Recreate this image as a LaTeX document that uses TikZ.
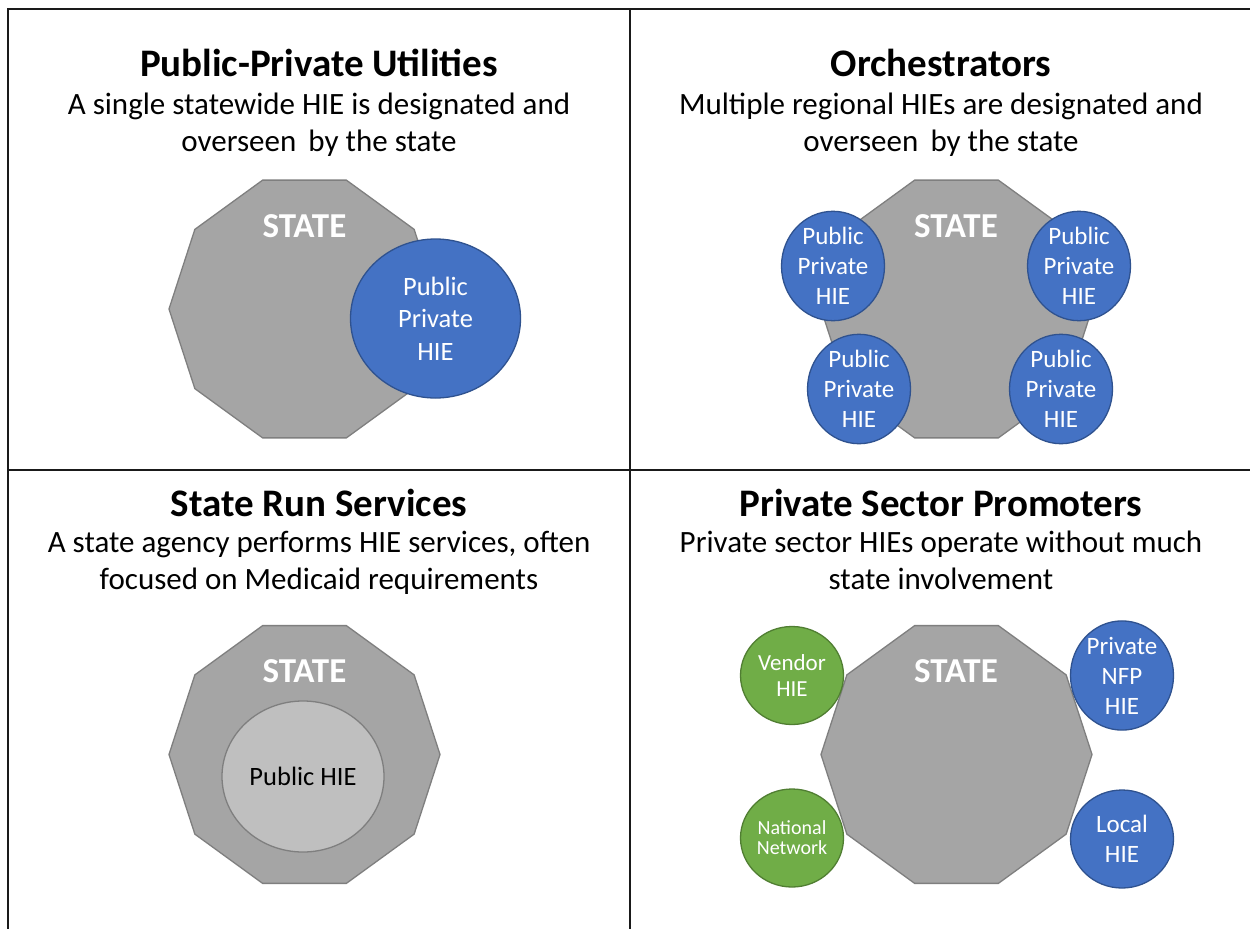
\documentclass[tikz,border=0pt]{standalone}
\usepackage{fontspec}
\setmainfont{Carlito}
\usetikzlibrary{shapes.geometric}
\definecolor{statefill}{HTML}{A5A5A5}
\definecolor{stateline}{HTML}{7F7F7F}
\definecolor{hieblue}{HTML}{4472C4}
\definecolor{hiebluedark}{HTML}{2F528F}
\definecolor{hiegreen}{HTML}{70AD47}
\definecolor{hiegreendark}{HTML}{507E32}
\definecolor{publicfill}{HTML}{BFBFBF}
\definecolor{frameline}{HTML}{1A1A1A}
\tikzset{
  frame/.style={draw=frameline, line width=2pt},
  decagon/.style={regular polygon, regular polygon sides=10, minimum size=271pt, inner sep=0pt, outer sep=0pt, fill=statefill, draw=stateline, line width=1.3pt},
  statelabel/.style={text=white, font=\bfseries\fontsize{35}{35}\selectfont, anchor=base},
  titletext/.style={font=\bfseries\fontsize{39}{39}\selectfont, anchor=base},
  subtext/.style={font=\fontsize{31}{37}\selectfont, align=center, anchor=base},
  bigblue/.style={ellipse, minimum width=170pt, minimum height=159pt, inner sep=0pt, fill=hieblue, draw=hiebluedark, line width=1.3pt, text=white, align=center, font=\fontsize{26.5}{32.5}\selectfont},
  smallcircle/.style={ellipse, minimum width=103pt, minimum height=98pt, inner sep=0pt, line width=1.3pt, text=white, align=center},
  smallblue/.style={smallcircle, fill=hieblue, draw=hiebluedark, font=\fontsize{25}{30}\selectfont},
  smallgreen/.style={smallcircle, fill=hiegreen, draw=hiegreendark, font=\fontsize{23}{26}\selectfont},
  publiccircle/.style={ellipse, minimum width=162pt, minimum height=151pt, inner sep=0pt, fill=publicfill, draw=stateline, line width=1.3pt, font=\fontsize{26.5}{30}\selectfont}
}
\begin{document}
\begin{tikzpicture}[x=1pt,y=-1pt]
\useasboundingbox (0,0) rectangle (1250,929);
\fill[white] (0,0) rectangle (1250,929);
% frame
\coordinate (tl) at (8,9);
\coordinate (tr) at (1250,9);
\coordinate (bl) at (8,929);
\coordinate (mt) at (630,9);
\coordinate (mb) at (630,929);
\coordinate (ml) at (8,470);
\coordinate (mr) at (1250,470);
\draw[frame] (tr) -- (tl) -- (bl);
\draw[frame] (mt) -- (mb);
\draw[frame] (ml) -- (mr);

% Panel 1
\node[titletext] (t1) at (319,76) {Public-Private Utilities};
\node[subtext] (s1) at (319,151) {A single statewide HIE is designated and\\overseen\, by the state};
\node[decagon] (d1) at (304.5,309) {};
\node[statelabel] (st1) at (304.5,237) {STATE};
\node[bigblue] (c1) at (435.5,318.5) {Public\\Private\\HIE};

% Panel 2
\node[titletext] (t2) at (941,76) {Orchestrators};
\node[subtext] (s2) at (941,151) {Multiple regional HIEs are designated and\\overseen\, by the state};
\node[decagon] (d2) at (956.5,309) {};
\node[statelabel] (st2) at (956,237) {STATE};
\node[smallblue] (c2a) at (833,266) {Public\\Private\\HIE};
\node[smallblue] (c2b) at (1079,266) {Public\\Private\\HIE};
\node[smallblue] (c2c) at (859,389) {Public\\Private\\HIE};
\node[smallblue] (c2d) at (1061,389) {Public\\Private\\HIE};

% Panel 3
\node[titletext] (t3) at (319,516) {State Run Services};
\node[subtext] (s3) at (319,589) {A state agency performs HIE services, often\\focused on Medicaid requirements};
\node[decagon] (d3) at (304.5,754.5) {};
\node[statelabel] (st3) at (304.5,682) {STATE};
\node[publiccircle] (c3) at (303,776.5) {Public HIE};

% Panel 4
\node[titletext] (t4) at (941,516) {Private Sector Promoters};
\node[subtext] (s4) at (941,589) {Private sector HIEs operate without much\\state involvement};
\node[decagon] (d4) at (956.5,754.5) {};
\node[statelabel] (st4) at (956,682) {STATE};
\node[smallgreen] (c4a) at (792,675.5) {Vendor\\HIE};
\node[smallgreen, font=\fontsize{20}{20}\selectfont] (c4b) at (792,838) {National\\Network};
\node[smallblue] (c4c) at (1122,675.5) {Private\\NFP\\HIE};
\node[smallblue] (c4d) at (1122,839) {Local\\HIE};
\end{tikzpicture}
\end{document}
